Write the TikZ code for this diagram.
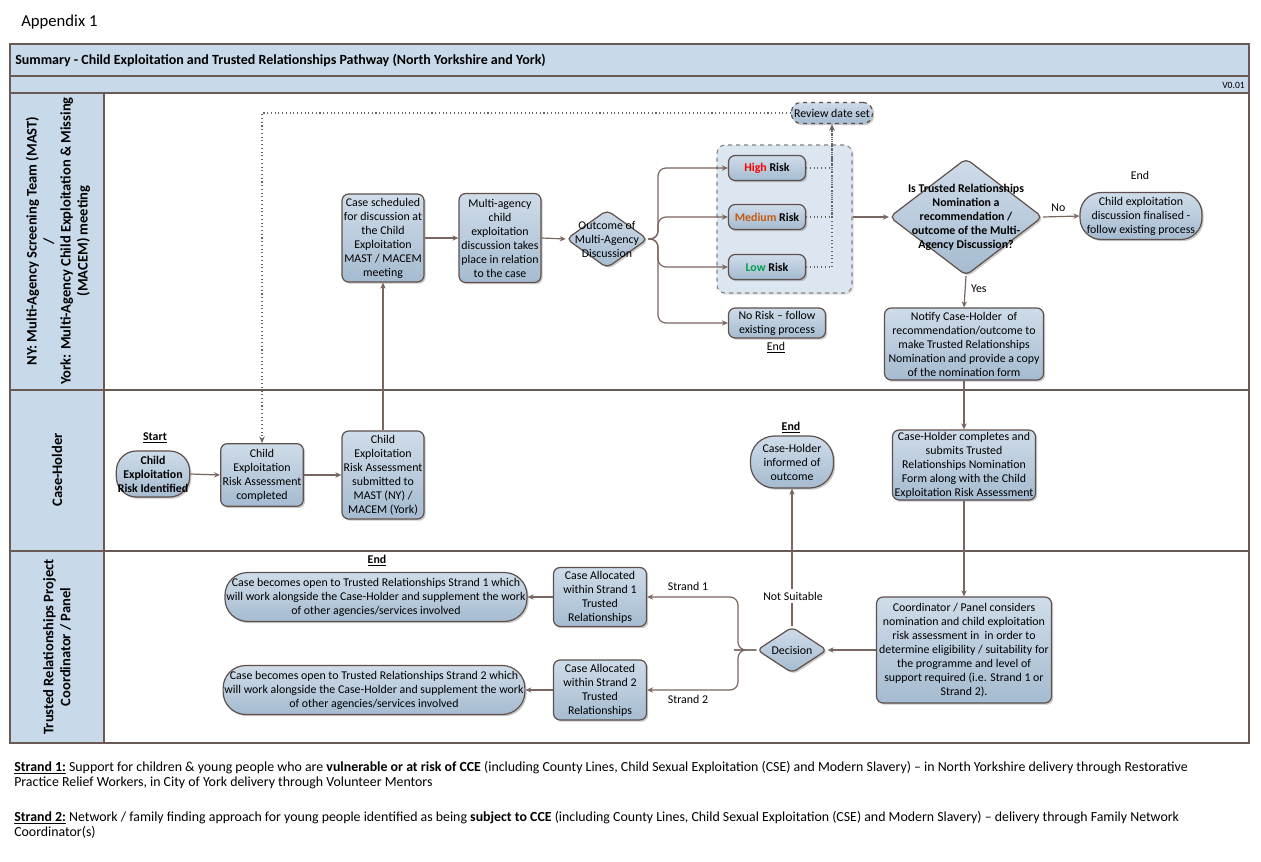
\documentclass[tikz,border=0pt]{standalone}
\usepackage{fontspec}
\setmainfont{Carlito}
\usetikzlibrary{shapes.geometric,shadows,arrows.meta}
\definecolor{bord}{HTML}{5E504B}
\definecolor{boxtop}{HTML}{CFDCE9}
\definecolor{boxbot}{HTML}{A5BBD0}
\definecolor{lanefill}{HTML}{C8D9E9}
\definecolor{conncol}{HTML}{7A6660}
\definecolor{grpfill}{HTML}{DCE6F0}
\definecolor{hired}{HTML}{FF0000}
\definecolor{medorange}{HTML}{C55A11}
\definecolor{lowgreen}{HTML}{00A050}
\definecolor{framecol}{HTML}{6A5A55}
\newcommand\nf{\fontsize{8.9}{10.5}\selectfont}
\newcommand\lf{\fontsize{10.9}{12.75}\selectfont\bfseries}
\begin{document}
\begin{tikzpicture}[x=0.75pt,y=-0.75pt,
  box/.style={draw=bord, line width=0.9pt, rounded corners=5pt, top color=boxtop, bottom color=boxbot,
    align=center, font=\nf, inner sep=1pt,
    drop shadow={shadow xshift=1.3pt,shadow yshift=-1.3pt,opacity=0.35,fill=black!60}},
  pill/.style={box, rounded corners=#1},
  sz/.style 2 args={minimum width=#1, minimum height=#2},
  dia/.style={diamond, draw=bord, line width=0.9pt, rounded corners=4pt, top color=boxtop, bottom color=boxbot,
    inner sep=0pt, drop shadow={shadow xshift=1.3pt,shadow yshift=-1.3pt,opacity=0.35,fill=black!60}},
  txt/.style={align=center, font=\nf, inner sep=0pt},
  arr/.style={draw=conncol, line width=0.9pt, -{Stealth[length=4.5pt,width=4pt]}},
  dotl/.style={draw=black!60, line width=0.8pt, dotted},
]
\useasboundingbox (0,0) rectangle (1261,861);
% ---- frame ----
\fill[lanefill] (10,44) rectangle (1249,93);
\fill[lanefill] (10,93) rectangle (104,743);
\draw[framecol, line width=0.9pt] (10,44) rectangle (1249,743);
\draw[framecol, line width=0.9pt] (10,76) -- (1249,76);
\draw[framecol, line width=0.9pt] (10,93) -- (1249,93);
\draw[framecol, line width=0.9pt] (10,390) -- (1249,390);
\draw[framecol, line width=0.9pt] (10,551) -- (1249,551);
\draw[framecol, line width=0.9pt] (104,93) -- (104,743);
\node[anchor=west, font=\fontsize{12.5}{14}\selectfont, inner sep=0pt] (app) at (21,22) {Appendix 1};
\node[anchor=west, font=\fontsize{10.5}{12}\selectfont\bfseries, inner sep=0pt] (title) at (15,60) {Summary - Child Exploitation and Trusted Relationships Pathway (North Yorkshire and York)};
\node[anchor=east, font=\fontsize{7.2}{8}\selectfont, inner sep=0pt] (ver) at (1245,85) {V0.01};
% lane labels
\node[rotate=90, align=center, font=\lf, inner sep=0pt] (lane1) at (58,241) {NY: Multi-Agency Screening Team (MAST)\\/\\York: Multi-Agency Child Exploitation \& Missing\\(MACEM) meeting};
\node[rotate=90, align=center, font=\lf, inner sep=0pt] (lane2) at (57,470) {Case-Holder};
\node[rotate=90, align=center, font=\lf, inner sep=0pt] (lane3) at (57,647) {Trusted Relationships Project\\Coordinator / Panel};

% ---- lane 2 (case-holder) ----
\node[pill=15pt, sz={55pt}{34.5pt}, font=\nf\bfseries] (start) at (153,474) {Child\\Exploitation\\Risk Identified};
\node[txt, font=\nf\bfseries] (startlbl) at (155,438) {\underline{Start}};
\node[box, sz={62pt}{47pt}] (rac) at (262,475) {Child\\Exploitation\\Risk Assessment\\completed};
\node[box, sz={61.5pt}{66pt}] (ras) at (383,475) {Child\\Exploitation\\Risk Assessment\\submitted to\\MAST (NY) /\\MACEM (York)};

% ---- lane 1 ----
\node[box, sz={61.5pt}{66pt}] (sched) at (383,238) {Case scheduled\\for discussion at\\the Child\\Exploitation\\MAST / MACEM\\meeting};
\node[box, sz={61.5pt}{66.75pt}] (mad) at (500,238) {Multi-agency\\child\\exploitation\\discussion takes\\place in relation\\to the case};
\node[dia, minimum width=61pt, minimum height=43.5pt] (outc) at (607,239) {};
\node[txt] (outct) at (outc.center) {Outcome of\\Multi-Agency\\Discussion};

\node[draw=black!50, dashed, line width=0.8pt, fill=grpfill, rounded corners=6pt, minimum width=101.25pt, minimum height=111pt,
  drop shadow={shadow xshift=1.3pt,shadow yshift=-1.3pt,opacity=0.25,fill=black!50}] (grp) at (784.5,219) {};
\node[box, sz={57.75pt}{18.75pt}, font=\nf\bfseries] (high) at (767,168) {\textcolor{hired}{High} Risk};
\node[box, sz={57.75pt}{18.75pt}, font=\nf\bfseries] (med) at (767,217) {\textcolor{medorange}{Medium} Risk};
\node[box, sz={57.75pt}{18.75pt}, font=\nf\bfseries] (low) at (767,267) {\textcolor{lowgreen}{Low} Risk};
\node[box, sz={72.75pt}{22.5pt}] (norisk) at (777,323) {No Risk -- follow\\existing process};
\node[txt] (noriskend) at (776,348) {\underline{End}};
\node[pill=7pt, sz={60.75pt}{15.75pt}, dashed] (review) at (832,113) {Review date set};

\node[dia, minimum width=114.75pt, minimum height=87.75pt] (bigd) at (966,217) {};
\node[txt, font=\nf\bfseries] (bigdt) at (bigd.center) {Is Trusted Relationships\\Nomination a\\recommendation /\\outcome of the Multi-\\Agency Discussion?};
\node[pill=16pt, sz={91.5pt}{35.25pt}] (endp) at (1141,216) {Child exploitation\\discussion finalised -\\follow existing process};
\node[txt] (endlbl) at (1140,175) {End};
\node[box, sz={119.25pt}{54pt}] (notify) at (964,344) {Notify Case-Holder\ \ of\\recommendation/outcome to\\make Trusted Relationships\\Nomination and provide a copy\\of the nomination form};

% ---- lane 2 right ----
\node[box, sz={107.25pt}{52.5pt}] (chc) at (964,465) {Case-Holder completes and\\submits Trusted\\Relationships Nomination\\Form along with the Child\\Exploitation Risk Assessment};
\node[pill=18pt, sz={62.25pt}{39pt}] (chi) at (792,462) {Case-Holder\\informed of\\outcome};
\node[txt, font=\nf\bfseries] (chiend) at (791,428) {\underline{End}};

% ---- lane 3 ----
\node[box, sz={131.25pt}{79.5pt}] (coord) at (964,650) {Coordinator / Panel considers\\nomination and child exploitation\\risk assessment in\ \ in order to\\determine eligibility / suitability for\\the programme and level of\\support required (i.e. Strand 1 or\\Strand 2).};
\node[dia, minimum width=52.5pt, minimum height=34.5pt] (dec) at (792,650) {};
\node[txt] (dect) at (dec.center) {Decision};
\node[box, sz={69.75pt}{44.25pt}] (s1) at (600,597) {Case Allocated\\within Strand 1\\Trusted\\Relationships};
\node[box, sz={69.75pt}{45pt}] (s2) at (600,690) {Case Allocated\\within Strand 2\\Trusted\\Relationships};
\node[pill=17pt, sz={226.5pt}{36.75pt}] (p1) at (376,597) {Case becomes open to Trusted Relationships Strand 1 which\\will work alongside the Case-Holder and supplement the work\\of other agencies/services involved};
\node[txt, font=\nf\bfseries] (p1end) at (377,561) {\underline{End}};
\node[pill=17pt, sz={225pt}{36.75pt}] (p2) at (374,690) {Case becomes open to Trusted Relationships Strand 2 which\\will work alongside the Case-Holder and supplement the work\\of other agencies/services involved};

% ---- connectors ----
\draw[arr] (start.east) -- (rac.west);
\draw[arr] (rac.east) -- (ras.west);
\draw[arr] (ras.north) -- (sched.south);
\draw[arr] (sched.east) -- (mad.west);
\draw[arr] (mad.east) -- (outc.west);
\coordinate (br1) at (658,239);
\draw[arr, rounded corners=6pt] (outc.east) -- (br1) |- (high.west);
\draw[arr, rounded corners=6pt] (outc.east) -- (br1) |- (med.west);
\draw[arr, rounded corners=6pt] (outc.east) -- (br1) |- (low.west);
\draw[arr, rounded corners=6pt] (outc.east) -- (br1) |- (norisk.west);
\draw[dotl] (high.east) -| (review.south);
\draw[dotl] (med.east) -| (review.south);
\draw[dotl, -{Stealth[length=5pt,width=4.2pt]}] (low.east) -| (review.south);
\draw[dotl, -{Stealth[length=5pt,width=4.2pt]}] (review.west) -| (rac.north);
\draw[arr] (grp.east |- bigd.west) -- (bigd.west);
\draw[arr] (bigd.east) -- node[above, font=\nf, inner sep=3pt, pos=0.42] (nolbl) {No} (endp.west);
\draw[arr] (bigd.south) -- node[right, font=\nf, inner sep=4pt, pos=0.4] (yeslbl) {Yes} (notify.north);
\draw[arr] (notify.south) -- (chc.north);
\draw[arr] (chc.south) -- (coord.north);
\draw[arr] (coord.west) -- (dec.east);
\draw[arr] (dec.north) -- (chi.south);
\node[txt, fill=white, inner sep=2pt] (nslbl) at (793,596) {Not Suitable};
\coordinate (br2) at (742,650);
\draw[arr, rounded corners=6pt] (dec.west) -- (br2) -- (738,650) |- (s1.east);
\draw[arr, rounded corners=6pt] (dec.west) -- (br2) -- (738,650) |- (s2.east);
\node[txt] (st1lbl) at (688,586) {Strand 1};
\node[txt] (st2lbl) at (688,699) {Strand 2};
\draw[arr] (s1.west) -- (p1.east);
\draw[arr] (s2.west) -- (p2.east);

% ---- footer ----
\node[anchor=north west, align=left, inner sep=0pt, font=\fontsize{10.4}{11.25}\selectfont] (foot1) at (14,761)
 {\underline{\textbf{Strand 1:}} Support for children \& young people who are \textbf{vulnerable or at risk of CCE} (including County Lines, Child Sexual Exploitation (CSE) and Modern Slavery) -- in North Yorkshire delivery through Restorative\\Practice Relief Workers, in City of York delivery through Volunteer Mentors};
\node[anchor=north west, align=left, inner sep=0pt, font=\fontsize{10.4}{11.25}\selectfont] (foot2) at (14,811)
 {\underline{\textbf{Strand 2:}} Network / family finding approach for young people identified as being \textbf{subject to CCE} (including County Lines, Child Sexual Exploitation (CSE) and Modern Slavery) -- delivery through Family Network\\Coordinator(s)};
\end{tikzpicture}
\end{document}
